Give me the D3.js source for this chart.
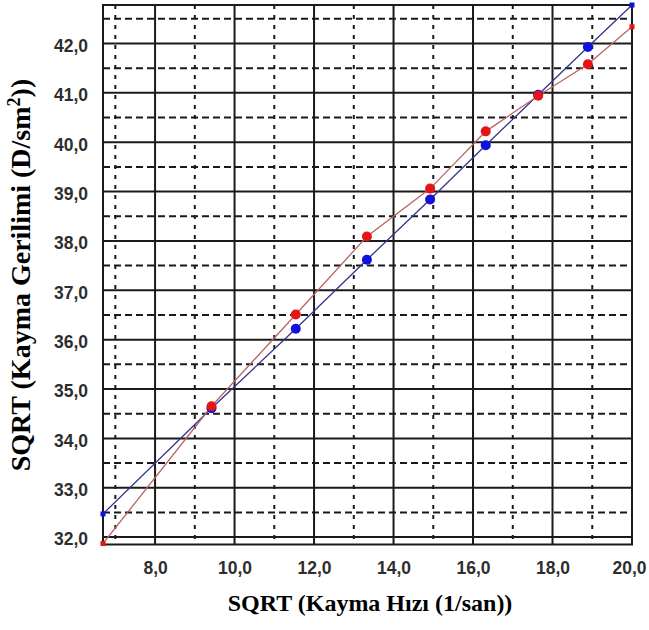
<!DOCTYPE html>
<html>
<head>
<meta charset="utf-8">
<script src="https://cdn.jsdelivr.net/npm/d3@7"></script>
<style>
  body { margin: 0; background: #fff; }
  svg { display: block; }
</style>
</head>
<body>
<div id="chart"></div>
<script>
// sqrt of shear rate (x) and sqrt of shear stress for the two series
var sqrtRate = [6.69, 9.42, 11.54, 13.33, 14.92, 16.32, 17.64, 18.89, 20.0];
var blueStress = [32.47, 34.61, 36.22, 37.62, 38.84, 39.94, 40.96, 41.93, 42.78];
var redStress = [31.87, 34.65, 36.51, 38.09, 39.06, 40.22, 40.94, 41.58, 42.34];

var xTicks = [8, 10, 12, 14, 16, 18, 20];
var yTicks = [32, 33, 34, 35, 36, 37, 38, 39, 40, 41, 42];
var xMinor = [7, 9, 11, 13, 15, 17, 19];
var yMinor = [32.5, 33.5, 34.5, 35.5, 36.5, 37.5, 38.5, 39.5, 40.5, 41.5, 42.5];

var width = 649, height = 630;
var margin = {top: 5, right: 17, bottom: 85.5, left: 103};
var w = width - margin.left - margin.right,
    h = height - margin.top - margin.bottom;

var fmt = function(d) { return d3.format(".1f")(d).replace(".", ","); };

var x = d3.scaleLinear().domain([6.69, 20.0]).range([0, w]);
var y = d3.scaleLinear().domain([31.85, 42.78]).range([h, 0]);

var svg = d3.select("#chart").append("svg")
    .attr("width", width)
    .attr("height", height);

var g = svg.append("g")
    .attr("transform", "translate(" + margin.left + "," + margin.top + ")");

// dashed minor grid
g.append("g").selectAll("line")
    .data(yMinor)
    .enter().append("line")
    .attr("x1", 0).attr("x2", w)
    .attr("y1", d => y(d)).attr("y2", d => y(d))
    .style("stroke", "#1a1a1a")
    .style("stroke-width", 2)
    .style("stroke-dasharray", "7,4");

g.append("g").selectAll("line")
    .data(xMinor)
    .enter().append("line")
    .attr("x1", d => x(d)).attr("x2", d => x(d))
    .attr("y1", 0).attr("y2", h)
    .style("stroke", "#1a1a1a")
    .style("stroke-width", 2)
    .style("stroke-dasharray", "4,6");

// solid major grid
g.append("g").selectAll("line")
    .data(yTicks)
    .enter().append("line")
    .attr("x1", 0).attr("x2", w)
    .attr("y1", d => y(d)).attr("y2", d => y(d))
    .style("stroke", "#1a1a1a")
    .style("stroke-width", 2);

g.append("g").selectAll("line")
    .data(xTicks.filter(d => d < 20))
    .enter().append("line")
    .attr("x1", d => x(d)).attr("x2", d => x(d))
    .attr("y1", 0).attr("y2", h)
    .style("stroke", "#1a1a1a")
    .style("stroke-width", 2);

g.append("rect")
    .attr("width", w).attr("height", h)
    .style("fill", "none")
    .style("stroke", "#1a1a1a")
    .style("stroke-width", 2);

// tick labels
var yAxis = g.append("g")
    .call(d3.axisLeft(y).tickValues(yTicks).tickFormat(fmt).tickSize(0).tickPadding(15));
var xAxis = g.append("g")
    .attr("transform", "translate(0," + h + ")")
    .call(d3.axisBottom(x).tickValues(xTicks).tickFormat(fmt).tickSize(0).tickPadding(17));

[yAxis, xAxis].forEach(function(a) {
  a.select(".domain").remove();
  a.selectAll("text")
    .style("font-family", "'Liberation Sans', Arial, sans-serif")
    .style("font-weight", "bold")
    .style("font-size", "17.5px")
    .style("fill", "#2e2e2e");
});
yAxis.selectAll("text").attr("dy", "0.45em");
xAxis.selectAll("text").filter(d => d == 20).attr("dx", -3);

// series
var series = [
  {vals: blueStress, line: "#34348f", mark: "#1111dd"},
  {vals: redStress, line: "#bb6464", mark: "#e51515"}
];

var lineGen = d3.line()
    .x(function(d, i) { return x(sqrtRate[i]); })
    .y(function(d) { return y(d); });

series.forEach(function(s) {
  g.append("path")
    .datum(s.vals)
    .attr("d", lineGen)
    .style("fill", "none")
    .style("stroke", s.line)
    .style("stroke-width", 1.3);
});

series.forEach(function(s) {
  var pts = s.vals.map(function(v, i) { return {x: sqrtRate[i], y: v, i: i}; });
  var last = pts.length - 1;
  g.append("g").selectAll("circle")
    .data(pts.filter(p => p.i > 0 && p.i < last))
    .enter().append("circle")
    .attr("cx", d => x(d.x))
    .attr("cy", d => y(d.y))
    .attr("r", 5)
    .style("fill", s.mark);
  g.append("g").selectAll("rect")
    .data(pts.filter(p => p.i == 0 || p.i == last))
    .enter().append("rect")
    .attr("x", d => x(d.x) - 2.5)
    .attr("y", d => y(d.y) - 2.5)
    .attr("width", 5).attr("height", 5)
    .style("fill", s.mark);
});

// titles
svg.append("text")
    .attr("x", 370)
    .attr("y", 611)
    .attr("text-anchor", "middle")
    .style("font-family", "'Liberation Serif', 'Times New Roman', serif")
    .style("font-weight", "bold")
    .style("font-size", "24px")
    .text("SQRT (Kayma Hızı (1/san))");

var yt = svg.append("text")
    .attr("transform", "translate(30,275) rotate(-90)")
    .attr("text-anchor", "middle")
    .style("font-family", "'Liberation Serif', 'Times New Roman', serif")
    .style("font-weight", "bold")
    .style("font-size", "28px");
yt.append("tspan").text("SQRT (Kayma Gerilimi (D/sm");
yt.append("tspan").attr("dy", -10).style("font-size", "18px").text("2");
yt.append("tspan").attr("dy", 10).text("))");
</script>
</body>
</html>
